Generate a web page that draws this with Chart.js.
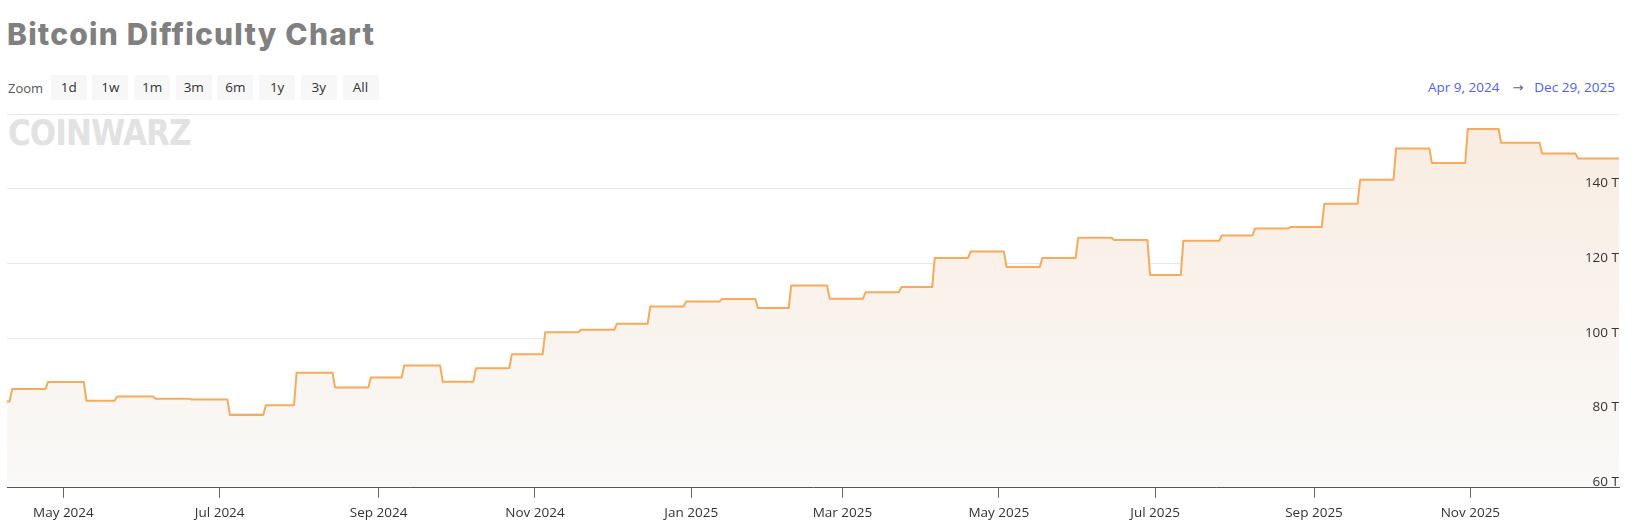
<!DOCTYPE html>
<html>
<head>
<meta charset="utf-8">
<script src="https://cdn.jsdelivr.net/npm/chart.js@4.4.1/dist/chart.umd.min.js"></script>
<style>
    html, body { margin: 0; padding: 0; background: #fff; overflow: hidden; }
    body { width: 1631px; height: 525px; position: relative; font-family: 'Open Sans', sans-serif; }
    #title { position: absolute; left: 7px; top: 16px; font-family: Inter, sans-serif; font-weight: 800; font-size: 30px; color: #808080; white-space: nowrap; letter-spacing: 1.2px; }
    #zoom { position: absolute; left: 8px; top: 75px; height: 25px; display: flex; align-items: center; font-size: 13px; color: #555; }
    #zoom .btn { width: 36px; height: 25px; line-height: 25px; margin-left: 5.7px; background: #f7f7f7; border-radius: 2px; text-align: center; color: #333; font-size: 13.5px; }
    #zoom .lbl { width: 37px; }
    #range { position: absolute; right: 16px; top: 75px; height: 25px; line-height: 25px; font-size: 13.5px; color: #4f5ef5; white-space: nowrap; }
    #range .arrow { color: #666; margin: 0 11px 0 13px; font-family: 'DejaVu Sans', sans-serif; font-size: 13px; }
    #logo { position: absolute; left: 8px; top: 112px; font-family: 'DejaVu Sans', sans-serif; font-weight: 900; font-size: 36px; color: #e2e2e2; transform-origin: 0 0; transform: scaleX(0.86); letter-spacing: -1px; }
    #wrap { position: absolute; left: 0; top: 100px; width: 1631px; height: 428px; }
</style>
</head>
<body>
<div id="title">Bitcoin Difficulty Chart</div>
<div id="zoom"><span class="lbl">Zoom</span></div>
<div id="range"><span id="from"></span><span class="arrow">→</span><span id="to"></span></div>
<div id="logo">COINWARZ</div>
<div id="wrap"><canvas id="chart"></canvas></div>
<script>
// difficulty epochs (start date, value in T)
let epochStarts = ['2024-04-09', '2024-04-11', '2024-04-25', '2024-05-10', '2024-05-22', '2024-06-06', '2024-06-20',
    '2024-07-05', '2024-07-19', '2024-07-31', '2024-08-15', '2024-08-29', '2024-09-11', '2024-09-26', '2024-10-09',
    '2024-10-23', '2024-11-05', '2024-11-19', '2024-12-03', '2024-12-16', '2024-12-30', '2025-01-13', '2025-01-27',
    '2025-02-09', '2025-02-24', '2025-03-10', '2025-03-24', '2025-04-06', '2025-04-20', '2025-05-04', '2025-05-18',
    '2025-06-01', '2025-06-15', '2025-06-29', '2025-07-12', '2025-07-27', '2025-08-09', '2025-08-23', '2025-09-05',
    '2025-09-19', '2025-10-03', '2025-10-17', '2025-10-31', '2025-11-13', '2025-11-29', '2025-12-13'];
let difficulty = [83.1, 86.4, 88.3, 83.3, 84.4, 83.8, 83.6,
    79.5, 82.1, 90.8, 86.85, 89.5, 92.7, 88.4, 92.0,
    95.7, 101.6, 102.3, 103.9, 108.5, 109.85, 110.5, 108.1,
    114.1, 110.6, 112.3, 113.7, 121.5, 123.2, 119.1, 121.5,
    126.9, 126.3, 116.95, 126.1, 127.5, 129.4, 129.8, 136.0,
    142.4, 150.8, 146.9, 156.0, 152.3, 149.4, 148.1];
let firstDate = '2024-04-09';
let lastDate = '2025-12-29';

let xTickDates = ['2024-05-01', '2024-07-01', '2024-09-01', '2024-11-01', '2025-01-01',
    '2025-03-01', '2025-05-01', '2025-07-01', '2025-09-01', '2025-11-01'];
let xTickLabels = ['May 2024', 'Jul 2024', 'Sep 2024', 'Nov 2024', 'Jan 2025',
    'Mar 2025', 'May 2025', 'Jul 2025', 'Sep 2025', 'Nov 2025'];
let yTicks = [60, 80, 100, 120, 140, 160];
let zoomButtons = ['1d', '1w', '1m', '3m', '6m', '1y', '3y', 'All'];
let rangeLabels = ['Apr 9, 2024', 'Dec 29, 2025'];

let zoomDiv = document.getElementById('zoom');
for (let b of zoomButtons) {
    let el = document.createElement('span');
    el.className = 'btn';
    el.textContent = b;
    zoomDiv.appendChild(el);
}
document.getElementById('from').textContent = rangeLabels[0];
document.getElementById('to').textContent = rangeLabels[1];

function dayNum(s) {
    let [y, m, d] = s.split('-').map(Number);
    return Date.UTC(y, m - 1, d) / 86400000;
}

// each epoch holds its value until the day before the next one
let points = [];
for (let i = 0; i < epochStarts.length; i++) {
    let start = dayNum(epochStarts[i]);
    let end = i + 1 < epochStarts.length ? dayNum(epochStarts[i + 1]) - 1 : dayNum(lastDate);
    points.push({x: start, y: difficulty[i]});
    if (end > start) {
        points.push({x: end, y: difficulty[i]});
    }
}

Chart.defaults.font.family = "'Open Sans', sans-serif";
Chart.defaults.font.size = 13.5;
Chart.defaults.color = '#333';

const ctx = document.getElementById('chart').getContext('2d');
const myChart = new Chart(ctx, {
    type: 'line',
    data: {
        datasets: [{
            label: 'Difficulty',
            data: points,
            borderColor: '#f6aa5c',
            borderWidth: 2,
            borderJoinStyle: 'round',
            pointRadius: 0,
            tension: 0,
            fill: 'start',
            backgroundColor: (c) => {
                let area = c.chart.chartArea;
                if (!area) return 'rgba(0,0,0,0)';
                let g = c.chart.ctx.createLinearGradient(0, area.top, 0, area.bottom);
                g.addColorStop(0, '#f9ece0');
                g.addColorStop(1, '#f9f9f8');
                return g;
            }
        }]
    },
    options: {
        responsive: true,
        maintainAspectRatio: false,
        animation: false,
        layout: {padding: {top: 14, left: 7, right: 12, bottom: 0}},
        plugins: {legend: {display: false}, tooltip: {enabled: false}},
        scales: {
            x: {
                type: 'linear',
                min: dayNum(firstDate),
                max: dayNum(lastDate),
                afterBuildTicks: (scale) => {
                    scale.ticks = xTickDates.map(d => ({value: dayNum(d)}));
                },
                ticks: {
                    autoSkip: false,
                    maxRotation: 0,
                    padding: 7,
                    color: '#333',
                    callback: (value, index) => xTickLabels[index]
                },
                grid: {drawOnChartArea: false, drawTicks: true, tickLength: 10, color: '#666'},
                border: {display: true, color: '#555', width: 1, z: 1}
            },
            y: {
                position: 'right',
                min: 60,
                max: 160,
                afterBuildTicks: (scale) => {
                    scale.ticks = yTicks.map(v => ({value: v}));
                },
                ticks: {
                    mirror: true,
                    padding: 0,
                    labelOffset: -5.5,
                    color: '#333',
                    z: 1,
                    callback: (value) => value < 160 ? value + ' T' : ''
                },
                grid: {color: '#e6e6e6', drawTicks: false},
                border: {display: false}
            }
        }
    }
});
</script>
</body>
</html>
